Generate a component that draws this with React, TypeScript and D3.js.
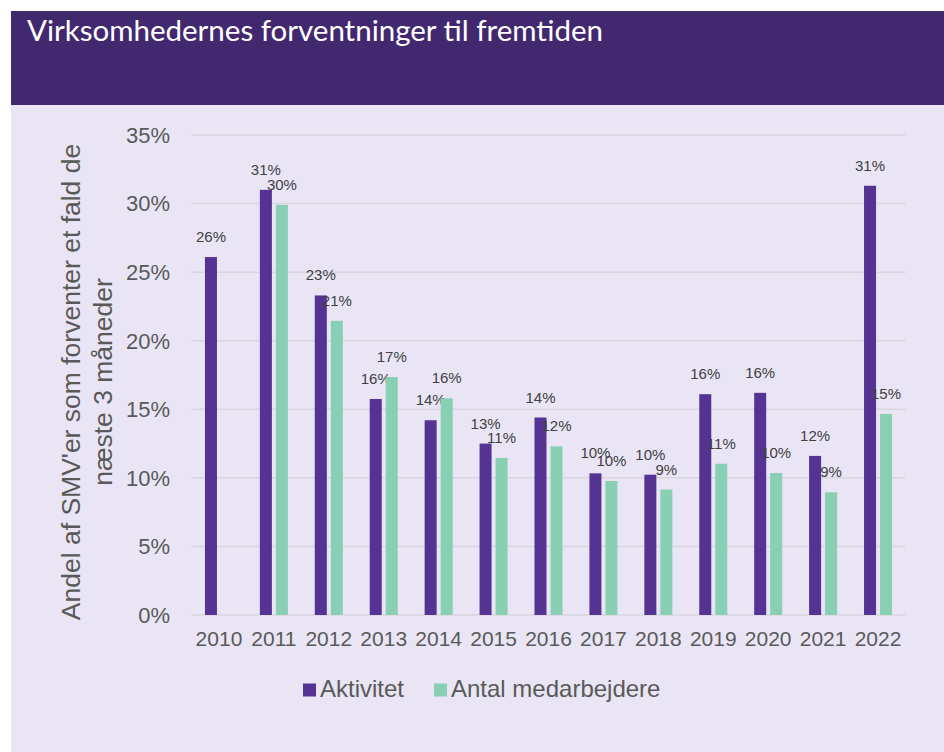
import React from "react";
import * as d3 from "d3";

const years = ["2010","2011","2012","2013","2014","2015","2016","2017","2018","2019","2020","2021","2022"];
const aktivitet = [26.1, 31.0, 23.3, 15.75, 14.2, 12.5, 14.4, 10.33, 10.23, 16.1, 16.2, 11.6, 31.3];
const medarbejdere: (number | null)[] = [null, 29.9, 21.45, 17.35, 15.8, 11.45, 12.3, 9.77, 9.14, 11.03, 10.35, 8.95, 14.66];
const seriesNames = ["Aktivitet", "Antal medarbejdere"];
const yTicks = [0, 5, 10, 15, 20, 25, 30, 35];
const title = "Virksomhedernes forventninger til fremtiden";
const yTitle1 = "Andel af SMV'er som forventer et fald de";
const yTitle2 = "næste 3 måneder";

const W = 944, H = 752;
const PURPLE = "#553393";
const GREEN = "#88CFB3";
const FONT = "'Liberation Sans', Arial, sans-serif";

export default function App() {
  const x0 = d3.scaleBand().domain(years).range([191.5, 905.5]).paddingInner(0).paddingOuter(0);
  const x1 = d3.scaleBand().domain(seriesNames).range([0, x0.bandwidth()]).paddingInner(0.25).paddingOuter(0.84);
  const y = d3.scaleLinear().domain([0, 35]).range([615, 135]);
  const series = [aktivitet, medarbejdere];
  const colors = [PURPLE, GREEN];

  return (
    <svg width={W} height={H} style={{ position: "absolute", left: 0, top: 0 }} fontFamily={FONT}>
      <rect x={11} y={11} width={W - 11} height={H - 11} fill="#E9E5F5" />
      <rect x={11} y={11} width={W - 11} height={94} fill="#42296F" />
      <text x={27} y={41} fill="#FFFFFF" fontFamily="Lato, 'Open Sans', sans-serif" fontSize={28} textLength={576} lengthAdjust="spacingAndGlyphs">{title}</text>

      {yTicks.map(t => (
        <g key={t}>
          <line x1={191.5} x2={905.5} y1={y(t)} y2={y(t)} stroke="#D9D6DE" strokeWidth={1.5} />
          <text x={170} y={y(t)} dy="0.36em" textAnchor="end" fontSize={22} fill="#595959">{t}%</text>
        </g>
      ))}

      <g transform="translate(80,382) rotate(-90)">
        <text x={0} y={0} textAnchor="middle" fontSize={26.5} fill="#595959">{yTitle1}</text>
        <text x={0} y={32} textAnchor="middle" fontSize={26.5} fill="#595959">{yTitle2}</text>
      </g>

      {years.map((yr, i) => (
        <g key={yr}>
          {series.map((s, j) => {
            const v = s[i];
            if (v == null) return null;
            const bx = (x0(yr) as number) + (x1(seriesNames[j]) as number);
            const bw = x1.bandwidth();
            return (
              <g key={j}>
                <rect x={bx} y={y(v)} width={bw} height={y(0) - y(v)} fill={colors[j]} />
                <text x={bx + bw / 2} y={y(v) - 15} textAnchor="middle" fontSize={15} fill="#404040">{Math.round(v)}%</text>
              </g>
            );
          })}
          <text x={(x0(yr) as number) + x0.bandwidth() / 2} y={646} textAnchor="middle" fontSize={21} fill="#595959">{yr}</text>
        </g>
      ))}

      <rect x={303} y={683.5} width={13} height={13} fill={PURPLE} />
      <text x={320} y={697} fontSize={24} fill="#595959">{seriesNames[0]}</text>
      <rect x={434} y={683.5} width={13} height={13} fill={GREEN} />
      <text x={451} y={697} fontSize={24} fill="#595959">{seriesNames[1]}</text>
    </svg>
  );
}
